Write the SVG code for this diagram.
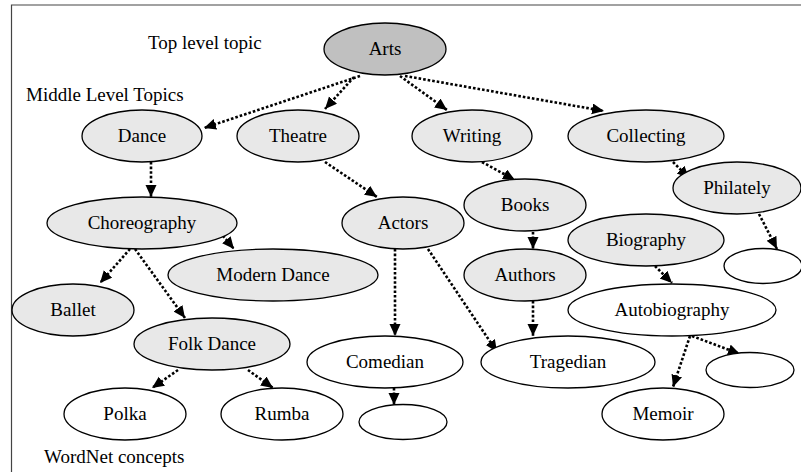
<svg xmlns="http://www.w3.org/2000/svg" width="801" height="472" viewBox="0 0 801 472" font-family="'Liberation Serif', 'Times New Roman', Times, serif" font-size="19">
<style>
.n{stroke:#000;stroke-width:1.3;fill:#e8e8e8}
.w{fill:#fff}
.top{fill:#c0c0c0}
.c{text-anchor:middle}
.e{stroke:#000;stroke-width:2.6;stroke-dasharray:2.6,2;fill:none;marker-end:url(#ah)}
</style>
<defs>
<marker id="ah" markerUnits="userSpaceOnUse" markerWidth="14" markerHeight="12" refX="12" refY="5.5" orient="auto">
<path d="M0,0 L12,5.5 L0,11 Z" fill="#000"/>
</marker>
</defs>
<rect width="801" height="472" fill="#fff"/>
<path d="M11.5,472 V5 H801" fill="none" stroke="#444" stroke-width="1.2"/>
<text x="148" y="49">Top level topic</text>
<text x="26" y="101">Middle Level Topics</text>
<text x="44" y="463">WordNet concepts</text>
<g id="edges">
<line class="e" x1="360" y1="76" x2="204" y2="128"/>
<line class="e" x1="354" y1="77" x2="325" y2="109"/>
<line class="e" x1="400" y1="76" x2="447" y2="110"/>
<line class="e" x1="405" y1="76" x2="604" y2="111"/>
<line class="e" x1="151" y1="162" x2="151" y2="197"/>
<line class="e" x1="325" y1="162" x2="377" y2="197"/>
<line class="e" x1="482" y1="162" x2="515" y2="180"/>
<line class="e" x1="673" y1="162" x2="689" y2="178"/>
<line class="e" x1="759" y1="214" x2="777" y2="249"/>
<line class="e" x1="533" y1="232" x2="533" y2="249"/>
<line class="e" x1="220" y1="232" x2="234" y2="249"/>
<line class="e" x1="130" y1="249" x2="100" y2="283"/>
<line class="e" x1="135" y1="249" x2="185" y2="318"/>
<line class="e" x1="395" y1="249" x2="395" y2="336"/>
<line class="e" x1="428" y1="249" x2="497" y2="352"/>
<line class="e" x1="533" y1="301" x2="533" y2="336"/>
<line class="e" x1="655" y1="266" x2="672" y2="283"/>
<line class="e" x1="178" y1="370" x2="152" y2="388"/>
<line class="e" x1="248" y1="370" x2="273" y2="388"/>
<line class="e" x1="394" y1="388" x2="394" y2="405"/>
<line class="e" x1="690" y1="336" x2="673" y2="387"/>
<line class="e" x1="692" y1="336" x2="740" y2="354"/>
</g>
<g id="arts"><ellipse class="n top" cx="385" cy="49" rx="61" ry="26"/><text class="c" x="385" y="55">Arts</text></g>
<g id="dance"><ellipse class="n" cx="142" cy="136" rx="60" ry="26"/><text class="c" x="142" y="142">Dance</text></g>
<g id="theatre"><ellipse class="n" cx="298" cy="136" rx="61" ry="26"/><text class="c" x="298" y="142">Theatre</text></g>
<g id="writing"><ellipse class="n" cx="472" cy="136" rx="60" ry="26"/><text class="c" x="472" y="142">Writing</text></g>
<g id="collecting"><ellipse class="n" cx="646" cy="136" rx="78" ry="26"/><text class="c" x="646" y="142">Collecting</text></g>
<g id="philately"><ellipse class="n" cx="737" cy="188" rx="64" ry="26"/><text class="c" x="737" y="194">Philately</text></g>
<g id="books"><ellipse class="n" cx="525" cy="205" rx="61" ry="26"/><text class="c" x="525" y="211">Books</text></g>
<g id="actors"><ellipse class="n" cx="403" cy="223" rx="61" ry="26"/><text class="c" x="403" y="229">Actors</text></g>
<g id="choreography"><ellipse class="n" cx="142" cy="223" rx="95" ry="26"/><text class="c" x="142" y="229">Choreography</text></g>
<g id="biography"><ellipse class="n" cx="646" cy="240" rx="78" ry="26"/><text class="c" x="646" y="246">Biography</text></g>
<g id="blank-philately"><ellipse class="n w" cx="763" cy="266" rx="39" ry="17.5"/></g>
<g id="authors"><ellipse class="n" cx="525" cy="275" rx="61" ry="26"/><text class="c" x="525" y="281">Authors</text></g>
<g id="modern-dance"><ellipse class="n" cx="273" cy="275" rx="105" ry="26"/><text class="c" x="273" y="281">Modern Dance</text></g>
<g id="ballet"><ellipse class="n" cx="73" cy="310" rx="61" ry="26"/><text class="c" x="73" y="316">Ballet</text></g>
<g id="autobiography"><ellipse class="n w" cx="672" cy="310" rx="104" ry="26"/><text class="c" x="672" y="316">Autobiography</text></g>
<g id="folk-dance"><ellipse class="n" cx="212" cy="344" rx="78" ry="26"/><text class="c" x="212" y="350">Folk Dance</text></g>
<g id="comedian"><ellipse class="n w" cx="385" cy="362" rx="78" ry="26"/><text class="c" x="385" y="368">Comedian</text></g>
<g id="tragedian"><ellipse class="n w" cx="568" cy="362" rx="87" ry="26"/><text class="c" x="568" y="368">Tragedian</text></g>
<g id="blank-autobiography"><ellipse class="n w" cx="750" cy="370" rx="44" ry="17.5"/></g>
<g id="polka"><ellipse class="n w" cx="125" cy="414" rx="61" ry="26"/><text class="c" x="125" y="420">Polka</text></g>
<g id="rumba"><ellipse class="n w" cx="282" cy="414" rx="61" ry="26"/><text class="c" x="282" y="420">Rumba</text></g>
<g id="memoir"><ellipse class="n w" cx="663" cy="414" rx="61" ry="26"/><text class="c" x="663" y="420">Memoir</text></g>
<g id="blank-comedian"><ellipse class="n w" cx="403" cy="422" rx="44" ry="17.5"/></g>
</svg>
